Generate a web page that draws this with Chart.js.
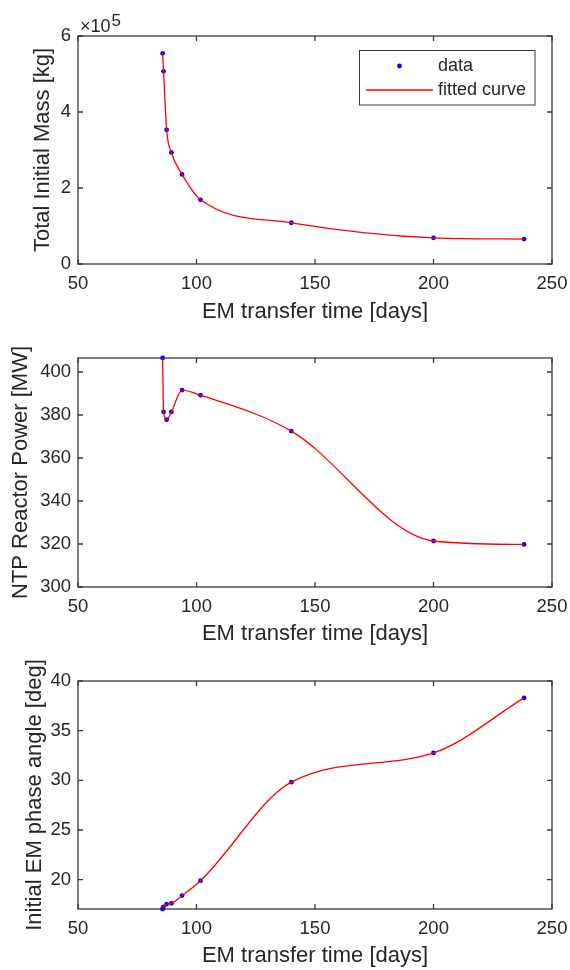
<!DOCTYPE html>
<html>
<head>
<meta charset="utf-8">
<script src="https://cdn.jsdelivr.net/npm/chart.js@4.4.1/dist/chart.umd.min.js"></script>
<style>
  body { margin: 0; background: #fff; }
  #wrap { position: relative; width: 570px; height: 970px; overflow: hidden; }
  canvas { position: absolute; left: 0; }
</style>
</head>
<body>
<div id="wrap">
  <canvas id="massCanvas"></canvas>
  <canvas id="powerCanvas"></canvas>
  <canvas id="angleCanvas"></canvas>
</div>
<script>
// transfer times shared by all three panels
let transferDays = [85.7, 86.1, 87.4, 89.4, 93.9, 101.7, 140, 200, 238.2];
let totalMass = [5.545e5, 5.07e5, 3.53e5, 2.935e5, 2.357e5, 1.69e5, 1.085e5, 0.69e5, 0.657e5];
let reactorPower = [406.5, 381.4, 377.8, 381.4, 391.6, 389.2, 372.5, 321.4, 319.8];
let phaseAngle = [17.05, 17.27, 17.55, 17.62, 18.4, 19.9, 29.82, 32.76, 38.3];

let xTicks = [50, 100, 150, 200, 250];
let massTicks = [0, 2, 4, 6];            // x 10^5
let powerTicks = [300, 320, 340, 360, 380, 400];
let angleTicks = [20, 25, 30, 35, 40];
let seriesLabels = ['data', 'fitted curve'];

const AXIS_COLOR = '#262626';
const FONT = "'Liberation Sans', Arial, Helvetica, sans-serif";
const AREA_LEFT = 78;
const AREA_RIGHT = 552;

// draws the MATLAB style box with inward ticks
const matlabAxes = {
    id: 'matlabAxes',
    beforeDatasetsDraw(chart) {
        let ctx = chart.ctx;
        let a = chart.chartArea;
        let xs = chart.scales.x;
        let ys = chart.scales.y;
        ctx.save();
        ctx.strokeStyle = '#3a3a3a';
        ctx.lineWidth = 1.3;
        ctx.strokeRect(a.left, a.top, a.right - a.left, a.bottom - a.top);
        ctx.beginPath();
        xs.ticks.forEach(function(t) {
            let px = xs.getPixelForValue(t.value);
            ctx.moveTo(px, a.bottom); ctx.lineTo(px, a.bottom - 5);
            ctx.moveTo(px, a.top); ctx.lineTo(px, a.top + 5);
        });
        ys.ticks.forEach(function(t) {
            let py = ys.getPixelForValue(t.value);
            ctx.moveTo(a.left, py); ctx.lineTo(a.left + 5, py);
            ctx.moveTo(a.right, py); ctx.lineTo(a.right - 5, py);
        });
        ctx.stroke();
        ctx.restore();
    },
    afterDraw(chart, args, opts) {
        if (!opts.legend) return;
        let ctx = chart.ctx;
        let a = chart.chartArea;
        ctx.save();
        // exponent label
        ctx.fillStyle = AXIS_COLOR;
        ctx.textBaseline = 'alphabetic';
        ctx.textAlign = 'left';
        ctx.font = '18px ' + FONT;
        ctx.fillText('\u00d710', a.left + 2, a.top - 4.5);
        let w = ctx.measureText('\u00d710').width;
        ctx.font = '17px ' + FONT;
        ctx.fillText('5', a.left + 3 + w, a.top - 10.5);

        // legend
        let bx = a.right - 193, by = a.top + 14, bw = 175.5, bh = 54.5;
        ctx.fillStyle = '#ffffff';
        ctx.fillRect(bx, by, bw, bh);
        ctx.strokeStyle = '#3a3a3a';
        ctx.lineWidth = 1;
        ctx.strokeRect(bx + 0.5, by + 0.5, bw, bh);
        let dots = chart.data.datasets[0];
        let curve = chart.data.datasets[1];
        ctx.fillStyle = dots.pointBackgroundColor;
        ctx.beginPath();
        ctx.arc(bx + 40.5, by + 16, 2.4, 0, Math.PI * 2);
        ctx.fill();
        ctx.strokeStyle = curve.borderColor;
        ctx.lineWidth = 1.3;
        ctx.beginPath();
        ctx.moveTo(bx + 7, by + 40);
        ctx.lineTo(bx + 74, by + 40);
        ctx.stroke();
        ctx.fillStyle = AXIS_COLOR;
        ctx.font = '18px ' + FONT;
        ctx.textBaseline = 'middle';
        ctx.fillText(dots.label, bx + 79, by + 16);
        ctx.fillText(curve.label, bx + 79, by + 40);
        ctx.restore();
    }
};

function buildChart(canvasId, box, yValues, ySpec) {
    let canvas = document.getElementById(canvasId);
    canvas.width = 570;
    canvas.height = box.height;
    canvas.style.top = box.top + 'px';

    let points = transferDays.map(function(x, i) {
        return { x: x, y: yValues[i] };
    });

    let tickFont = { family: FONT, size: 18.5 };
    let titleFont = { family: FONT, size: 22, lineHeight: 1 };

    return new Chart(canvas.getContext('2d'), {
        type: 'line',
        data: {
            datasets: [{
                label: seriesLabels[0],
                data: points,
                showLine: false,
                pointRadius: 2.4,
                pointHoverRadius: 0,
                pointBorderWidth: 0,
                pointBackgroundColor: '#0000ff',
                order: 1,
                clip: false
            }, {
                label: seriesLabels[1],
                data: points,
                borderColor: '#ff0000',
                borderWidth: 1.3,
                pointRadius: 0,
                pointHoverRadius: 0,
                cubicInterpolationMode: 'monotone',
                fill: false,
                order: 0,
                clip: false
            }]
        },
        options: {
            responsive: false,
            animation: false,
            devicePixelRatio: 1,
            events: [],
            layout: { padding: { left: 0, right: 570 - AREA_RIGHT, top: box.areaTop, bottom: 0 } },
            plugins: {
                legend: { display: false },
                tooltip: { enabled: false },
                matlabAxes: { legend: !!box.legend }
            },
            scales: {
                x: {
                    type: 'linear',
                    min: 50,
                    max: 250,
                    afterBuildTicks: function(s) { s.ticks = xTicks.map(function(v) { return { value: v }; }); },
                    afterFit: function(s) {
                        s.height = box.height - box.areaBottom;
                        // the edge labels fit inside the layout padding already
                        s.paddingLeft = 0;
                        s.paddingRight = 0;
                    },
                    grid: { display: false, drawTicks: false },
                    border: { display: false },
                    ticks: { font: tickFont, color: AXIS_COLOR, padding: 9, maxRotation: 0, autoSkip: false },
                    title: {
                        display: true,
                        text: 'EM transfer time [days]',
                        font: titleFont,
                        color: AXIS_COLOR,
                        padding: { top: 0, bottom: box.xTitlePad }
                    }
                },
                y: {
                    type: 'linear',
                    min: ySpec.min,
                    max: ySpec.max,
                    afterBuildTicks: function(s) { s.ticks = ySpec.ticks.map(function(v) { return { value: v * ySpec.scale }; }); },
                    afterFit: function(s) { s.width = AREA_LEFT; },
                    grid: { display: false, drawTicks: false },
                    border: { display: false },
                    ticks: {
                        font: tickFont,
                        color: AXIS_COLOR,
                        padding: 7,
                        autoSkip: false,
                        callback: function(v) { return String(Math.round(v / ySpec.scale)); }
                    },
                    title: {
                        display: true,
                        text: ySpec.title,
                        font: titleFont,
                        color: AXIS_COLOR,
                        padding: { top: box.yTitleX - 11, bottom: 0 }
                    }
                }
            }
        },
        plugins: [matlabAxes]
    });
}

buildChart('massCanvas',
    { top: 0, height: 322, areaTop: 36, areaBottom: 264, yTitleX: 43, xTitlePad: -0.7, legend: true },
    totalMass,
    { min: 0, max: 6e5, ticks: massTicks, scale: 1e5, title: 'Total Initial Mass [kg]' });

buildChart('powerCanvas',
    { top: 322, height: 323, areaTop: 36, areaBottom: 265, yTitleX: 20.5, xTitlePad: 0 },
    reactorPower,
    { min: 300, max: 406.5, ticks: powerTicks, scale: 1, title: 'NTP Reactor Power [MW]' });

buildChart('angleCanvas',
    { top: 645, height: 325, areaTop: 36, areaBottom: 264, yTitleX: 34.8, xTitlePad: 3.3 },
    phaseAngle,
    { min: 17.05, max: 40, ticks: angleTicks, scale: 1, title: 'Initial EM phase angle [deg]' });
</script>
</body>
</html>
